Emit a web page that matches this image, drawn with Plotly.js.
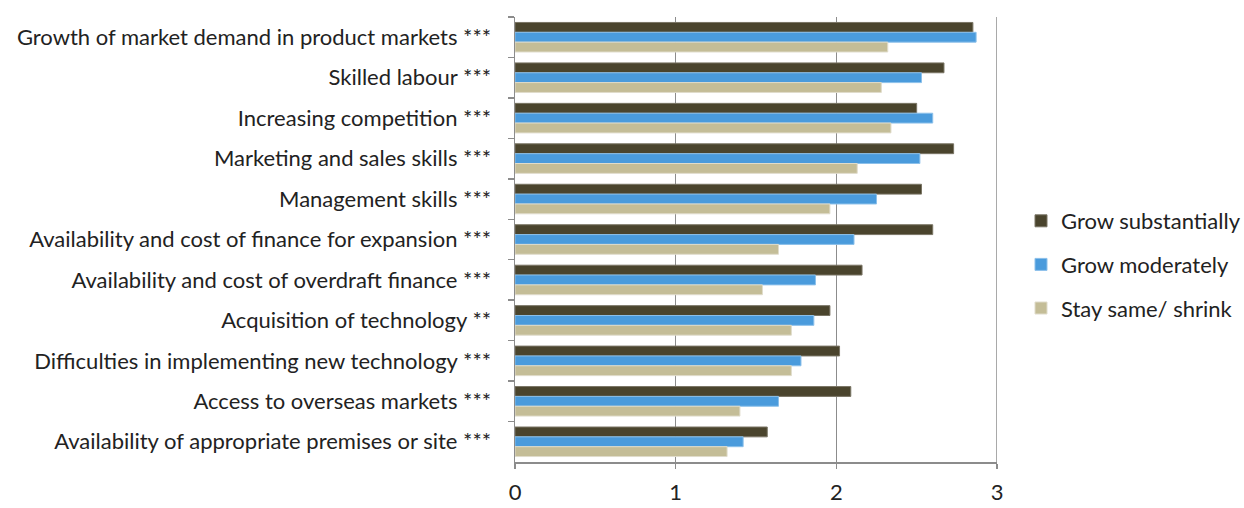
<!DOCTYPE html>
<html><head><meta charset="utf-8">
<script src="https://cdn.plot.ly/plotly-3.0.1.min.js"></script>
<style>html,body{margin:0;padding:0;background:#fff}#chart{width:1244px;height:508px}</style>
</head><body><div id="chart"></div>
<script>
const categories = [
  "Growth of market demand in product markets ***",
  "Skilled labour ***",
  "Increasing competition ***",
  "Marketing and sales skills ***",
  "Management skills ***",
  "Availability and cost of finance for expansion ***",
  "Availability and cost of overdraft finance ***",
  "Acquisition of technology **",
  "Difficulties in implementing new technology ***",
  "Access to overseas markets ***",
  "Availability of appropriate premises or site ***"
];
const growSubstantially = [2.85, 2.67, 2.50, 2.73, 2.53, 2.60, 2.16, 1.96, 2.02, 2.09, 1.57];
const growModerately   = [2.87, 2.53, 2.60, 2.52, 2.25, 2.11, 1.87, 1.86, 1.78, 1.64, 1.42];
const staySameShrink   = [2.32, 2.28, 2.34, 2.13, 1.96, 1.64, 1.54, 1.72, 1.72, 1.40, 1.32];
const seriesNames = ["Grow substantially", "Grow moderately", "Stay same/ shrink"];
const xTicks = [0, 1, 2, 3];

const colors = ["#4a442d", "#4a9bdc", "#c4bd97"];
const lines = ["#7a7565", "#8cc0ea", "#e0dccb"];
const values = [growSubstantially, growModerately, staySameShrink];

const traces = values.map((v, i) => ({
  type: "bar",
  orientation: "h",
  name: seriesNames[i],
  x: v,
  y: categories,
  legendgroup: "g" + i,
  marker: {color: colors[i], line: {color: lines[i], width: 1}},
  hoverinfo: "x+name"
}));

const fam = "Lato, 'Open Sans', sans-serif";
const txt = {family: fam, size: 22, color: "#222222"};

const layout = {
  width: 1244, height: 508,
  margin: {l: 515, r: 247, t: 17, b: 46, pad: 0, autoexpand: false},
  barmode: "group",
  bargap: 0.27,
  bargroupgap: 0,
  paper_bgcolor: "#fff",
  plot_bgcolor: "#fff",
  font: txt,
  showlegend: true,
  legend: {
    xref: "container", yref: "container",
    x: 1021 / 1244, xanchor: "left",
    y: 1 - 200 / 508, yanchor: "top",
    traceorder: "grouped", tracegroupgap: 12,
    font: txt,
    itemwidth: 30,
    bgcolor: "rgba(0,0,0,0)"
  },
  xaxis: {
    range: [0, 3],
    tickvals: xTicks,
    ticktext: xTicks.map(String),
    showgrid: true, gridcolor: "#8c8c8c", gridwidth: 1.5,
    showline: true, linecolor: "#8c8c8c", linewidth: 1.5,
    ticks: "outside", ticklen: 5, tickcolor: "#8c8c8c", tickwidth: 1.5,
    ticklabelstandoff: 5,
    zeroline: false,
    tickfont: txt,
    fixedrange: true
  },
  yaxis: {
    type: "category",
    autorange: "reversed",
    showline: true, linecolor: "#8c8c8c", linewidth: 1.5,
    ticks: "outside", tickson: "boundaries", ticklen: 6, tickcolor: "#8c8c8c", tickwidth: 1.5,
    ticklabelstandoff: 18,
    showgrid: false,
    tickfont: txt,
    fixedrange: true
  },
  shapes: [{
    type: "line", xref: "x", yref: "paper", x0: 3, x1: 3, y0: 0, y1: 1,
    line: {color: "#8c8c8c", width: 1.5}
  }]
};

Plotly.newPlot("chart", traces, layout, {displayModeBar: false, staticPlot: true});
</script>
</body></html>
